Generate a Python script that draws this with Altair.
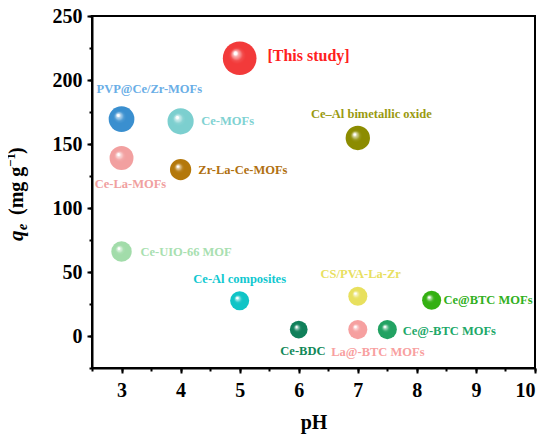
import altair as alt
import pandas as pd

names = ["[This study]", "PVP@Ce/Zr-MOFs", "Ce-MOFs", "Ce-La-MOFs", "Zr-La-Ce-MOFs",
         "Ce\u2013Al bimetallic oxide", "Ce-UIO-66 MOF", "Ce-Al composites", "CS/PVA-La-Zr",
         "Ce@BTC MOFs", "Ce-BDC", "La@-BTC MOFs", "Ce@-BTC MOFs"]
ph = [5, 3, 4, 3, 4, 7, 3, 5, 7, 8.25, 6, 7, 7.5]
qe = [217, 169.5, 167.7, 139, 130, 154.7, 66, 27.5, 31, 28, 5, 5, 5]
diam = [38, 29, 29.5, 27, 24, 27.5, 23, 21.5, 21.5, 21.5, 20, 21.5, 21.5]
colors = ["#f23a3a", "#3a8fcf", "#7ccfcf", "#f2a0a0", "#b4780a", "#8c8c00", "#a2dcaa",
          "#10c4c6", "#e8e05e", "#34b012", "#10805a", "#f6a0a0", "#22a262"]
label_colors = ["#ff2020", "#6aaee6", "#80d2d2", "#f0a0a0", "#b07010", "#9a9a10", "#a8e0b0",
                "#10c8d0", "#e8e060", "#30b020", "#108858", "#f8a0a0", "#20a868"]
label_x = [5.47, 3.47, 4.35, 3.15, 4.30, 7.23, 3.32, 5.0, 7.05, 8.45, 6.07, 7.34, 7.76]
label_y = [219, 193, 167.7, 118.6, 129.6, 173.4, 66, 44.8, 48.7, 28, -11.6, -12.7, 4.1]
label_align = ["left", "center", "left", "center", "left", "center", "left", "center",
               "center", "left", "center", "center", "left"]
label_size = [16, 12.5, 12.5, 12.5, 12.5, 12.5, 12.5, 12.5, 12.5, 12.5, 12.5, 12.5, 12.5]

FONT = "Liberation Serif"

xscale = alt.Scale(domain=[2.5, 10], nice=False, zero=False)
yscale = alt.Scale(domain=[-25, 250], nice=False, zero=False)

x_major = [3, 4, 5, 6, 7, 8, 9, 10]
x_minor = [2.5 + 0.5 * i for i in range(16)]
y_major = [0, 50, 100, 150, 200, 250]
y_minor = [-25 + 25 * i for i in range(12)]


def tint(hexc, f):
    r, g, b = int(hexc[1:3], 16), int(hexc[3:5], 16), int(hexc[5:7], 16)
    r, g, b = [int(c + (255 - c) * f) for c in (r, g, b)]
    return "#%02x%02x%02x" % (r, g, b)


df = pd.DataFrame({"name": names, "ph": ph, "qe": qe,
                   "size": [3.14159 * (d / 2) ** 2 for d in diam],
                   "lx": label_x, "ly": label_y, "align": label_align,
                   "fs": label_size, "lc": label_colors})

# major axes layer
major = alt.Chart(df).mark_point(opacity=0).encode(
    x=alt.X("ph:Q", scale=xscale,
            axis=alt.Axis(values=x_major, tickSize=5, grid=False, title="pH",
                          titleFontSize=20, titleFont=FONT, titleFontWeight="bold",
                          titlePadding=12, labelPadding=7, orient="bottom")),
    y=alt.Y("qe:Q", scale=yscale,
            axis=alt.Axis(values=y_major, tickSize=5, grid=False, title=None,
                          labelPadding=5, orient="left")),
)
# minor tick axes layer (no labels)
minor = alt.Chart(df).mark_point(opacity=0).encode(
    x=alt.X("ph:Q", scale=xscale,
            axis=alt.Axis(values=x_minor, labels=False, tickSize=3, grid=False, title=None,
                          domain=False, orient="bottom")),
    y=alt.Y("qe:Q", scale=yscale,
            axis=alt.Axis(values=y_minor, labels=False, tickSize=3, grid=False, title=None,
                          domain=False, orient="left")),
)

layers = [major, minor]
for i in range(len(names)):
    c = colors[i]
    grad = {"gradient": "radial", "x1": 0.36, "y1": 0.34, "r1": 0,
            "x2": 0.5, "y2": 0.5, "r2": 0.5,
            "stops": [{"offset": 0, "color": "#ffffff"},
                      {"offset": 0.1, "color": "#ffffff"},
                      {"offset": 0.16, "color": tint(c, 0.6)},
                      {"offset": 0.26, "color": tint(c, 0.4)},
                      {"offset": 0.36, "color": tint(c, 0.1)},
                      {"offset": 0.5, "color": c},
                      {"offset": 1, "color": c}]}
    pt = alt.Chart(df.iloc[[i]]).mark_circle(fill=grad, opacity=1, strokeWidth=0).encode(
        x=alt.X("ph:Q", scale=xscale, axis=None),
        y=alt.Y("qe:Q", scale=yscale, axis=None),
        size=alt.Size("size:Q", scale=None))
    layers.append(pt)

for al in ["left", "center"]:
    t = alt.Chart(df).transform_filter(alt.datum.align == al).mark_text(
        align=al, baseline="middle", font=FONT, fontWeight="bold").encode(
        x=alt.X("lx:Q", scale=xscale, axis=None),
        y=alt.Y("ly:Q", scale=yscale, axis=None),
        text="name:N",
        size=alt.Size("fs:Q", scale=None),
        color=alt.Color("lc:N", scale=None),
    )
    layers.append(t)

# y-axis title pieces: italic q with subscript e, then units with superscript -1
title_df = pd.DataFrame({"t": ["q"]})


def ttl(txt, x, y, size, style="normal"):
    return alt.Chart(title_df).mark_text(
        text=txt, angle=270, align="left", baseline="alphabetic", font=FONT,
        fontSize=size, fontStyle=style, fontWeight="bold", color="black").encode(
        x=alt.value(x), y=alt.value(y))


layers += [
    ttl("q", -69, 225, 21, "italic"),
    ttl("e", -65, 214, 14, "italic"),
    ttl("(mg g", -69, 199, 20),
    ttl("\u22121", -77, 151, 13),
    ttl(")", -69, 138, 20),
]

chart = alt.layer(*layers).resolve_axis(x="independent", y="independent").properties(
    width=443, height=352,
    autosize=alt.AutoSizeParams(type="none"),
    padding={"left": 84, "top": 8, "right": 7, "bottom": 72},
    background="white",
).configure_view(stroke="black", strokeWidth=2).configure_axis(
    domainColor="black", domainWidth=2, tickColor="black", tickWidth=2,
    labelFont=FONT, labelFontSize=20, labelFontWeight="bold", labelColor="black",
    titleColor="black",
)

chart.save("out.html", embed_options={"renderer": "svg", "actions": False})
